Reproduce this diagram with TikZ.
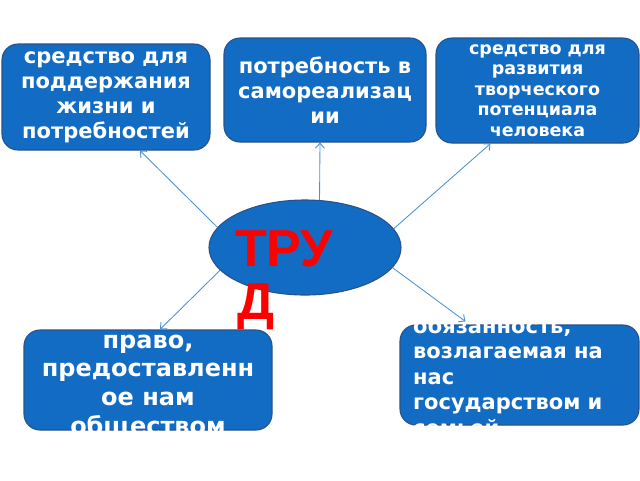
\documentclass[tikz,border=0pt]{standalone}
\usepackage{fontspec}
\setmainfont{DejaVu Sans}
\newfontfamily\trudfont{Liberation Sans}
\usepackage{tikz}
\usepackage{xcolor}
\usetikzlibrary{shapes.geometric, positioning, arrows, arrows.meta}
\definecolor{boxblue}{RGB}{18,108,196}
\definecolor{boxedge}{RGB}{40,82,138}
\definecolor{linkblue}{RGB}{74,144,217}

\begin{document}
\begin{tikzpicture}[x=1pt, y=-1pt,
  box/.style={draw=boxedge, line width=1.1pt, fill=boxblue, rounded corners=16pt, inner sep=0pt, text=white, align=center},
  link/.style={-{Straight Barb[length=5pt, width=9pt, line width=0.9pt]}, draw=linkblue, line width=0.85pt}]
  \useasboundingbox (0,0) rectangle (640,480);
  % top row
  \node[box, minimum width=208pt, minimum height=106pt, font=\bfseries\fontsize{21}{25}\selectfont] (life) at (106,97)
    {средство для\\поддержания\\жизни и\\потребностей};
  \node[box, minimum width=202pt, minimum height=104pt, font=\bfseries\fontsize{21}{25}\selectfont] (need) at (325,90)
    {потребность в\\самореализац\\ии};
  \node[box, minimum width=203pt, minimum height=105pt, font=\bfseries\fontsize{17.5}{20.5}\selectfont] (growth) at (537.5,90.5)
    {средство для\\развития\\творческого\\потенциала\\человека};
  % bottom row, text cut at the box
  \node[box, minimum width=248pt, minimum height=100pt] (law) at (148,380) {};
  \begin{scope}
    \clip ([yshift=2pt]law.north west) rectangle (law.south east);
    \node[text=white, align=center, inner sep=0pt, font=\bfseries\fontsize{24}{28.7}\selectfont] (lawtext) at (148,386)
      {право,\\предоставленн\\ое нам\\обществом};
  \end{scope}
  \node[box, minimum width=239pt, minimum height=100pt] (duty) at (519.5,375) {};
  \begin{scope}
    \clip ([yshift=2pt]duty.north west) rectangle ([yshift=-2pt]duty.south east);
    \node[text=white, align=left, anchor=west, inner sep=0pt, font=\bfseries\fontsize{21}{25.5}\selectfont] (dutytext) at (413,376)
      {обязанность,\\возлагаемая на\\нас\\государством и\\семьей};
  \end{scope}
  % centre
  \node[ellipse, draw=boxedge, fill=boxblue, line width=1.1pt, minimum width=192pt, minimum height=95pt, inner sep=0pt] (trud) at (305,247.5) {};
  \node[anchor=base west, inner sep=0pt, text=red, font=\trudfont\bfseries\fontsize{52}{53}\selectfont] (trudup) at (235,266) {ТРУ};
  \node[anchor=base west, inner sep=0pt, text=red, font=\trudfont\bfseries\fontsize{52}{53}\selectfont] (trudlow) at (237,319) {Д};
  % links
  \draw[link] (trud.167) -- ([xshift=34pt]life.south);
  \draw[link] (trud.73) -- ([xshift=-5pt]need.south);
  \draw[link] (trud.12) -- ([xshift=-47pt]growth.south);
  \draw[link] (trud.195) -- ([xshift=12pt]law.north);
  \draw[link] (trud.347) -- ([xshift=-54pt,yshift=3pt]duty.north);
\end{tikzpicture}
\end{document}
